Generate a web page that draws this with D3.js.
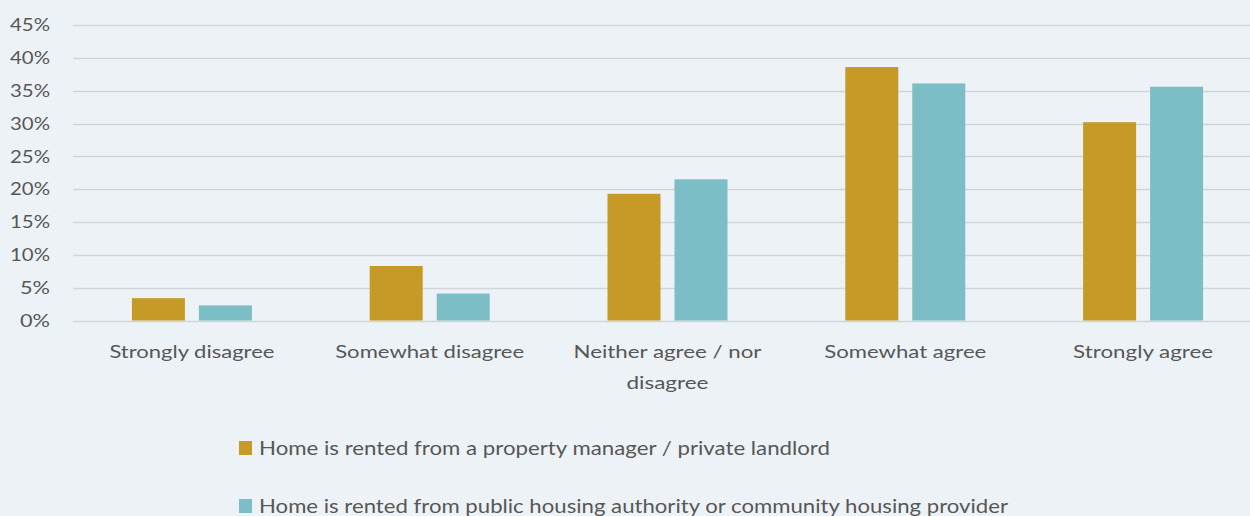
<!DOCTYPE html>
<html>
<head>
<meta charset="utf-8">
<script src="https://cdn.jsdelivr.net/npm/d3@7"></script>
<style>
  html, body { margin: 0; padding: 0; background: #edf2f6; }
  svg { display: block; }
  text { font-family: Lato, "Open Sans", sans-serif; fill: #575757; }
</style>
</head>
<body>
<svg id="chart" width="1250" height="516"></svg>
<script>
// Agreement categories (x axis), with the line breaks used in their labels
const categories = ["Strongly disagree", "Somewhat disagree", "Neither agree / nor disagree", "Somewhat agree", "Strongly agree"];
const categoryLines = [["Strongly disagree"], ["Somewhat disagree"], ["Neither agree / nor", "disagree"], ["Somewhat agree"], ["Strongly agree"]];
const categoryLabelWidths = [[165], [189], [188, 82], [162], [140]];

// Series names and values (percent of respondents)
const seriesNames = [
  "Home is rented from a property manager / private landlord",
  "Home is rented from public housing authority or community housing provider"
];
const privateLandlord = [3.4, 8.3, 19.3, 38.6, 30.2];
const publicHousing   = [2.3, 4.1, 21.5, 36.1, 35.6];
const seriesValues = [privateLandlord, publicHousing];
const seriesColors = ["#c59a26", "#7bbec5"];

// Y axis ticks
const yTicks = [0, 5, 10, 15, 20, 25, 30, 35, 40, 45];

const svg = d3.select("#chart");

const y = d3.scaleLinear().domain([0, 45]).range([320.5, 25]);
const x0 = d3.scaleBand().domain(categories).range([73, 1262]).paddingInner(0).paddingOuter(0);
const x1 = d3.scaleBand().domain(d3.range(seriesNames.length))
  .range([x0.bandwidth() / 2 - 60, x0.bandwidth() / 2 + 60]).paddingInner(14 / 67);

// Gridlines
svg.append("g").selectAll("line").data(yTicks).join("line")
  .attr("x1", 73).attr("x2", 1250)
  .attr("y1", d => Math.round(y(d)) + 0.5).attr("y2", d => Math.round(y(d)) + 0.5)
  .attr("stroke", "#d0d5d9").attr("stroke-width", 1.3);

// Y tick labels
svg.append("g").selectAll("text").data(yTicks).join("text")
  .attr("x", 50).attr("y", d => y(d))
  .attr("dy", "0.35em")
  .attr("text-anchor", "end")
  .attr("textLength", d => d < 10 ? 30 : 40)
  .attr("lengthAdjust", "spacingAndGlyphs")
  .style("font-size", "18px")
  .text(d => d + "%");

// Bars
const groups = svg.append("g").selectAll("g").data(categories).join("g")
  .attr("transform", d => `translate(${x0(d)},0)`);

groups.selectAll("rect")
  .data((c, i) => seriesValues.map((vals, s) => ({ s, v: vals[i] })))
  .join("rect")
  .attr("x", d => x1(d.s))
  .attr("width", x1.bandwidth())
  .attr("y", d => y(d.v))
  .attr("height", d => y(0) - y(d.v))
  .attr("fill", d => seriesColors[d.s]);

// Category labels
const catG = svg.append("g");
categories.forEach((c, i) => {
  const cx = x0(c) + x0.bandwidth() / 2;
  categoryLines[i].forEach((line, j) => {
    catG.append("text")
      .attr("x", cx).attr("y", 358 + j * 31)
      .attr("text-anchor", "middle")
      .attr("textLength", categoryLabelWidths[i][j])
      .attr("lengthAdjust", "spacingAndGlyphs")
      .style("font-size", "18px")
      .text(line);
  });
});

// Legend
const legendWidths = [571, 749];
const legend = svg.append("g");
seriesNames.forEach((name, i) => {
  const ly = 448 + i * 58;
  legend.append("rect")
    .attr("x", 239).attr("y", ly - 7).attr("width", 13).attr("height", 14)
    .attr("fill", seriesColors[i]);
  legend.append("text")
    .attr("x", 259).attr("y", ly + 7)
    .attr("textLength", legendWidths[i])
    .attr("lengthAdjust", "spacingAndGlyphs")
    .style("font-size", "19px")
    .text(name);
});
</script>
</body>
</html>
